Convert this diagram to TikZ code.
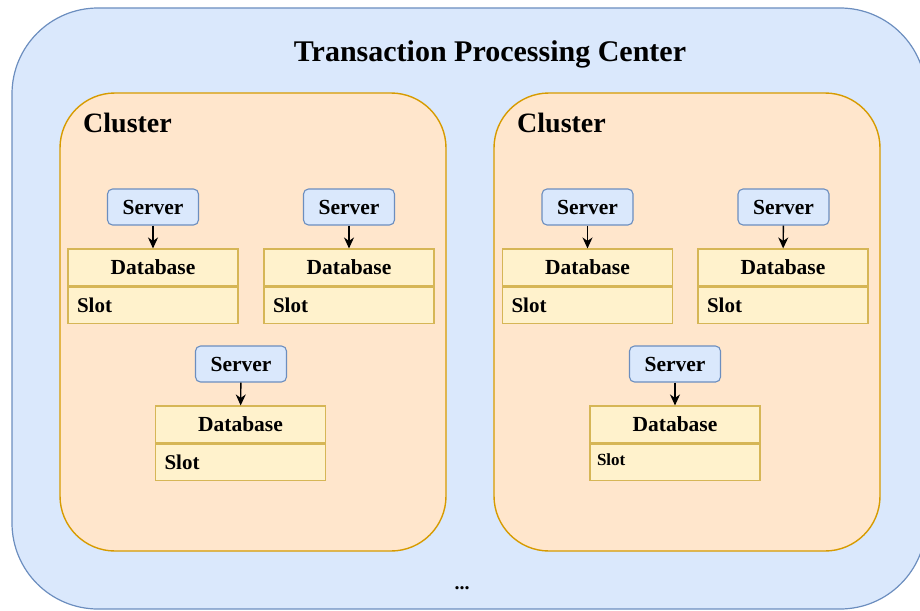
\documentclass[tikz,border=0pt]{standalone}
\usepackage{fontspec}
\setmainfont{Liberation Serif}
\usetikzlibrary{arrows.meta}

\definecolor{blueFill}{HTML}{DAE8FC}
\definecolor{blueLine}{HTML}{6C8EBF}
\definecolor{orangeFill}{HTML}{FFE6CC}
\definecolor{orangeLine}{HTML}{D79B00}
\definecolor{yellowFill}{HTML}{FFF2CC}
\definecolor{yellowLine}{HTML}{D6B656}

% one server feeding its database (header + slot row)
% #1 name prefix, #2 server centre x, #3 database centre x, #4 top y, #5 slot style
\newcommand\srvstack[5]{%
  \node[srv] (#1s) at (#2,#4+18) {Server};
  \node[dbhead] (#1d) at (#3,#4+78.5) {Database};
  \node[#5, anchor=north] (#1l) at (#1d.south) {Slot};
  \draw[link] (#1s) -- (#1d);
}

\begin{document}
\begin{tikzpicture}[x=1pt,y=-1pt,
  centerbox/.style={draw=blueLine, fill=blueFill, line width=1.2pt, rounded corners=86pt},
  clusterbox/.style={draw=orangeLine, fill=orangeFill, line width=1.4pt, rounded corners=55pt},
  title/.style={inner sep=0pt, anchor=base, font=\fontsize{30}{34}\selectfont\bfseries},
  clusterlabel/.style={inner sep=0pt, anchor=base west, font=\fontsize{28}{32}\selectfont\bfseries},
  srv/.style={draw=blueLine, fill=blueFill, line width=1.1pt, rounded corners=5pt,
    minimum width=91pt, minimum height=36pt, inner sep=0pt,
    text height=14pt, text depth=0pt, font=\fontsize{21.5}{24}\selectfont\bfseries},
  dbhead/.style={draw=yellowLine, fill=yellowFill, line width=1.1pt,
    minimum width=170pt, minimum height=37pt, inner sep=0pt,
    text height=13pt, text depth=0pt, font=\fontsize{21.5}{24}\selectfont\bfseries},
  dbslot/.style={draw=yellowLine, fill=yellowFill, line width=1.1pt,
    text width=152pt, align=left, inner xsep=9pt, inner ysep=0pt,
    minimum height=36pt, text height=14pt, text depth=0pt,
    font=\fontsize{21}{24}\selectfont\bfseries},
  dbslotsmall/.style={dbslot, text width=156pt, inner xsep=7pt,
    text height=7pt, font=\fontsize{17}{20}\selectfont\bfseries},
  link/.style={draw=black, line width=1.4pt, -{Stealth[length=11pt,width=10pt,inset=3.5pt]}},
  dots/.style={inner sep=0pt, anchor=base, font=\fontsize{20}{24}\selectfont\bfseries}
]
\useasboundingbox (0,0) rectangle (920,610);
\clip (0,0) rectangle (920,610);

% processing centre and its two clusters
\draw[centerbox] (12,8) rectangle (926,609);
\node[title] (ttl) at (490,62) {Transaction Processing Center};

\draw[clusterbox] (60,93) rectangle (446,551);
\draw[clusterbox] (494,93) rectangle (880,551);
\node[clusterlabel] (cla) at (83,132) {Cluster};
\node[clusterlabel] (clb) at (517,132) {Cluster};

% first cluster
\srvstack{a1}{153}{153}{189}{dbslot}
\srvstack{a2}{349}{349}{189}{dbslot}
\srvstack{a3}{241}{240.5}{346}{dbslot}

% second cluster
\srvstack{b1}{587.5}{587.5}{189}{dbslot}
\srvstack{b2}{783.5}{783}{189}{dbslot}
\srvstack{b3}{675}{675}{346}{dbslotsmall}

\node[dots] (more) at (462,589) {...};
\end{tikzpicture}
\end{document}
